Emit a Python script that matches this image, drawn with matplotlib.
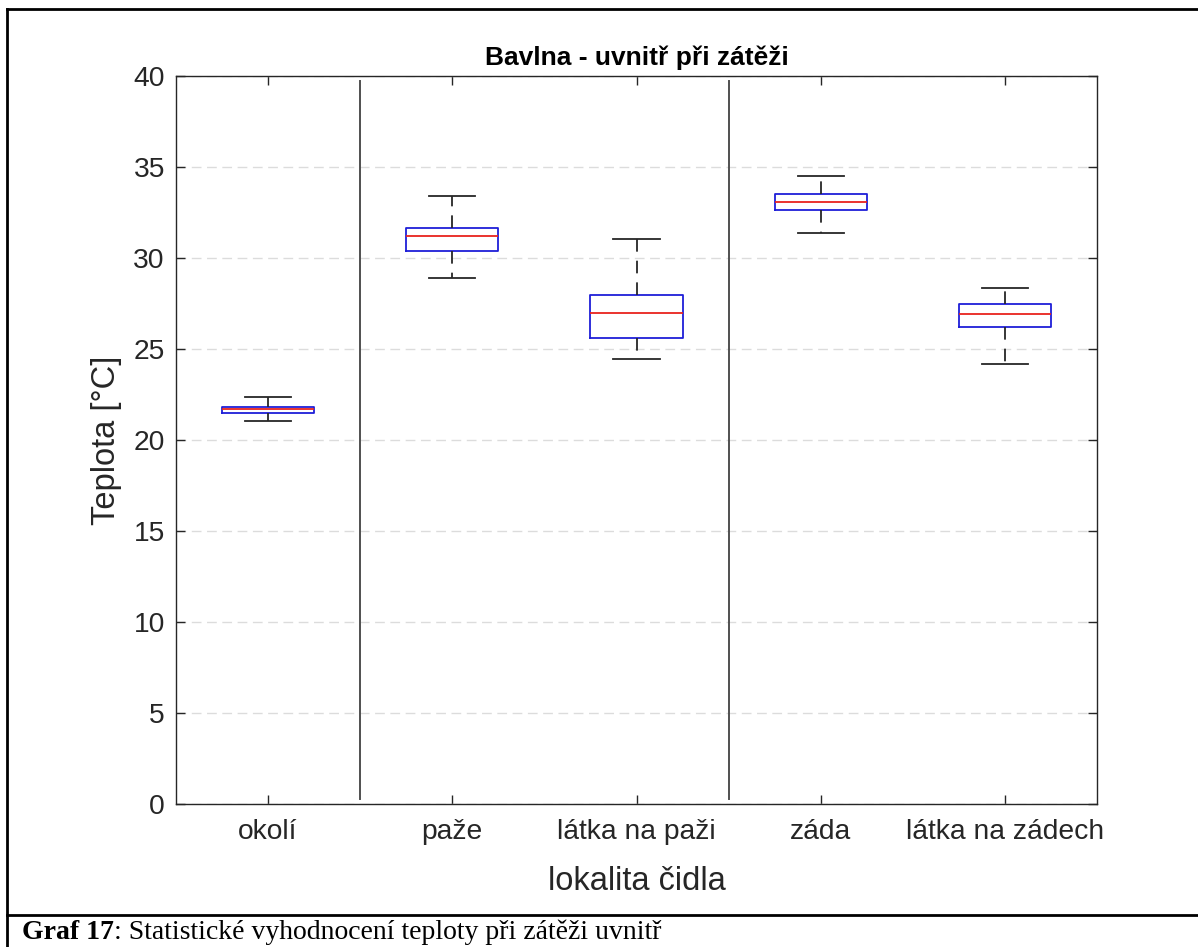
import matplotlib
matplotlib.use("Agg")
import matplotlib.pyplot as plt
from matplotlib.lines import Line2D

# box statistics per sensor location (deg C)
locations = ["okolí", "paže", "látka na paži", "záda", "látka na zádech"]
medians = [21.70, 31.19, 27.00, 33.08, 26.94]
q1 = [21.50, 30.40, 25.60, 32.64, 26.19]
q3 = [21.82, 31.63, 27.98, 33.50, 27.49]
whisk_lo = [21.06, 28.90, 24.45, 31.39, 24.16]
whisk_hi = [22.35, 33.42, 31.03, 34.52, 28.35]
separators = [1.5, 3.5]

plt.rcParams['font.family'] = ['Liberation Sans', 'DejaVu Sans']
axis_col = '#262626'

fig = plt.figure(figsize=(11.98, 9.47), dpi=100)
ax = fig.add_axes([176 / 1198, 1 - 804 / 947, (1097 - 176) / 1198, (804 - 76) / 947])

stats = []
for i, name in enumerate(locations):
    stats.append(dict(label=name, med=medians[i], q1=q1[i], q3=q3[i],
                      whislo=whisk_lo[i], whishi=whisk_hi[i], fliers=[]))

ax.bxp(stats, positions=range(1, len(locations) + 1), widths=0.5,
       showfliers=False,
       boxprops=dict(color='#1f1fd8', linewidth=1.3),
       medianprops=dict(color='#e8231e', linewidth=1.3),
       whiskerprops=dict(color='#262626', linewidth=1.3, linestyle=(0, (7, 5))),
       capprops=dict(color='#262626', linewidth=1.3),
       capwidths=0.25)

for x in separators:
    ax.plot([x, x], [0.3, 39.7], color='#505050', linewidth=1.4)

ax.set_xlim(0.5, 5.5)
ax.set_ylim(0, 40)
ax.set_yticks(range(0, 41, 5))
ax.yaxis.grid(True, linestyle=(0, (7, 4)), color='#dcdcdc', linewidth=1)
ax.set_axisbelow(True)

for s in ax.spines.values():
    s.set_color(axis_col)
    s.set_linewidth(1.0)
ax.tick_params(direction='in', length=6.5, width=1.0, color=axis_col,
               labelcolor=axis_col, labelsize=20.3, top=True, right=True)
ax.tick_params(axis='y', pad=8)
ax.tick_params(axis='x', pad=11)

ax.set_title("Bavlna - uvnitř při zátěži", fontsize=19, fontweight='bold',
             color='black', pad=8)
ax.set_xlabel("lokalita čidla", fontsize=23.5, color=axis_col, labelpad=15)
ax.set_ylabel("Teplota [°C]", fontsize=23.5, color=axis_col, labelpad=8)

# document frame around the figure and caption row
W, H = 1198, 947
def px_line(x0, y0, x1, y1):
    fig.add_artist(Line2D([x0 / W, x1 / W], [1 - y0 / H, 1 - y1 / H],
                          transform=fig.transFigure, color='black', linewidth=2.0))

px_line(7, 9, W, 9)
px_line(7, 9, 7, H)
px_line(7, 915, W, 915)

cap_y = 1 - 939 / H
t1 = fig.text(22 / W, cap_y, "Graf 17", fontsize=20, fontweight='bold',
              family='Liberation Serif', va='baseline', ha='left')
renderer = fig.canvas.get_renderer()
bb = t1.get_window_extent(renderer=renderer)
fig.text(bb.x1 / W, cap_y,
         ": Statistické vyhodnocení teploty při zátěži uvnitř", fontsize=20,
         family='Liberation Serif', va='baseline', ha='left')

fig.savefig("out.png", dpi=100)
